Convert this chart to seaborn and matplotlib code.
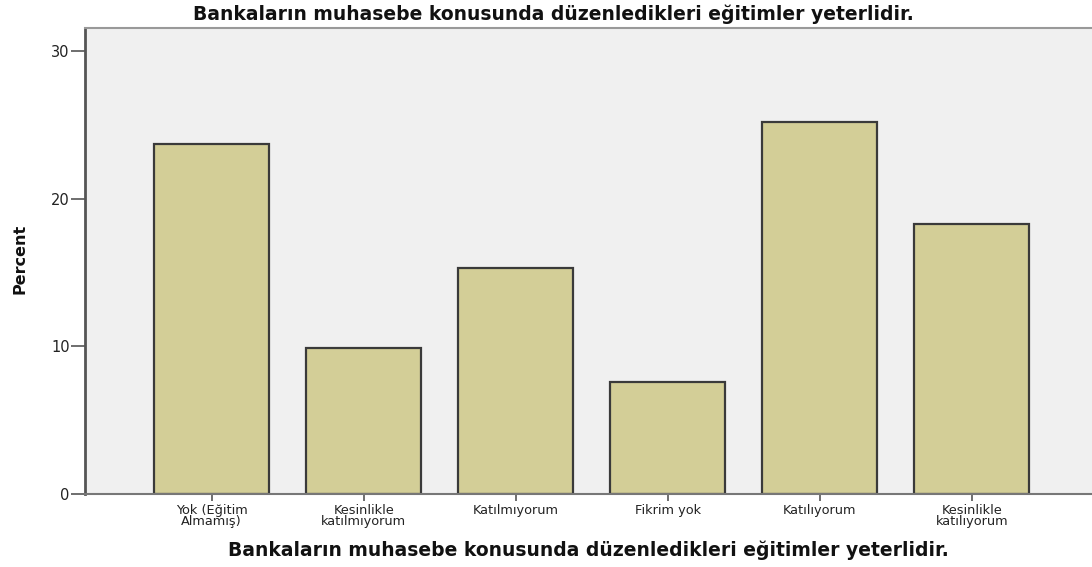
import matplotlib
matplotlib.use("Agg")
import matplotlib.pyplot as plt
import seaborn as sns
import pandas as pd

# datos
categorias = ["Yok (Eğitim\nAlmamış)", "Kesinlikle\nkatılmıyorum", "Katılmıyorum",
              "Fikrim yok", "Katılıyorum", "Kesinlikle\nkatılıyorum"]
porcentajes = [23.7, 9.9, 15.3, 7.6, 25.2, 18.3]
yticks = [0, 10, 20, 30]
titulo = "Bankaların muhasebe konusunda düzenledikleri eğitimler yeterlidir."

df = pd.DataFrame({"cat": categorias, "pct": porcentajes})

sns.set_style("white")
plt.rcParams['font.family'] = ['DejaVu Sans']

fig = plt.figure(figsize=(10.92, 5.67), dpi=100)
ax = fig.add_axes([85/1092, 1 - 494/567, 1 - 85/1092, (494 - 28)/567])
ax.set_facecolor("#F0F0F0")

sns.barplot(data=df, x="cat", y="pct", order=categorias, color="#D3CE97",
            edgecolor="#3a3a3a", linewidth=1.6, width=0.755, saturation=1, ax=ax)

ax.set_xlim(-0.833, 5.79)
ax.set_ylim(0, 31.57)
ax.set_yticks(yticks)
ax.set_yticklabels([str(t) for t in yticks], fontsize=10.5, color="#222222")
ax.set_xticks(range(len(categorias)))
ax.set_xticklabels(categorias, fontsize=9.3, color="#222222", linespacing=0.85)
ax.tick_params(axis="y", length=10, width=1.2, color="#555555", pad=1, direction="out", left=True)
ax.tick_params(axis="x", length=5, width=1.2, color="#555555", pad=2, direction="out", bottom=True)

for s in ["left", "top", "bottom"]:
    ax.spines[s].set_visible(True)
ax.spines["left"].set_color("#555555")
ax.spines["left"].set_linewidth(2)
ax.spines["bottom"].set_color("#777777")
ax.spines["bottom"].set_linewidth(1.5)
ax.spines["top"].set_color("#999999")
ax.spines["top"].set_linewidth(1.5)
ax.spines["right"].set_visible(False)

ax.set_xlabel(titulo, fontsize=13.5, fontweight="bold", labelpad=9, color="#111111")
ax.set_ylabel("")
fig.text(20/1092, 1 - 259/567, "Percent", fontsize=11.5, fontweight="bold",
         family=["Liberation Sans Narrow", "DejaVu Sans"], rotation=90,
         ha="center", va="center", color="#111111")

fig.text(553/1092, 1 - 14/567, titulo, fontsize=13.5, fontweight="bold",
         ha="center", va="center", color="#111111")

fig.savefig("out.png", dpi=100)
